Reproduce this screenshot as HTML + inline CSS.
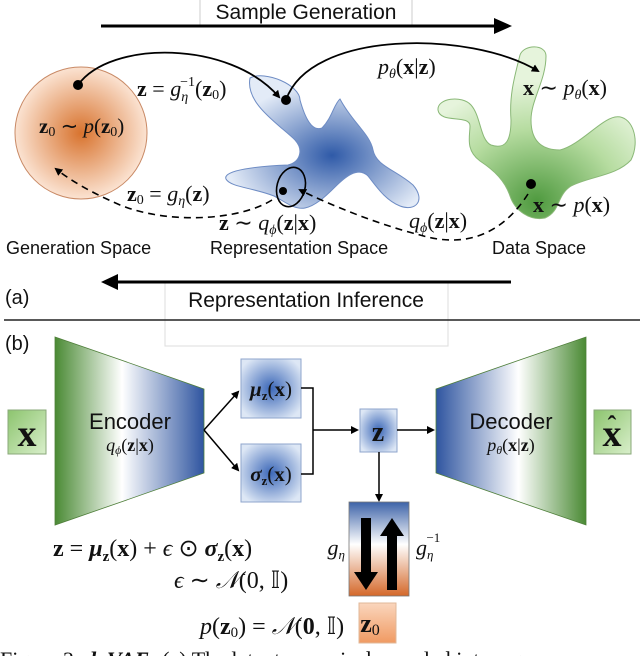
<!DOCTYPE html>
<html><head><meta charset="utf-8"><style>
html,body{margin:0;padding:0;background:#fff;width:640px;height:656px;overflow:hidden}
svg{display:block}
.s{font-family:"Liberation Sans",sans-serif;fill:#111}
.m{font-family:"Liberation Serif",serif;fill:#111}
.b{font-weight:bold}
.i{font-style:italic}
</style></head><body>
<svg width="640" height="656" viewBox="0 0 640 656" xmlns="http://www.w3.org/2000/svg" font-size="22">
<defs>
<radialGradient id="org" cx="50%" cy="50%" r="50%"><stop offset="0" stop-color="#d8732e"/><stop offset="1" stop-color="#fbe3d2"/></radialGradient>
<radialGradient id="blu" cx="55%" cy="60%" r="55%"><stop offset="0" stop-color="#2f5aa8"/><stop offset="1" stop-color="#e3ebf7"/></radialGradient>
<radialGradient id="grn" cx="50%" cy="90%" r="70%"><stop offset="0" stop-color="#4f9a3f"/><stop offset="0.6" stop-color="#b6dca0"/><stop offset="1" stop-color="#e6f4dc"/></radialGradient>
<radialGradient id="bbox" cx="50%" cy="50%" r="60%"><stop offset="0" stop-color="#3c68b8"/><stop offset="1" stop-color="#dde7f5"/></radialGradient>
<linearGradient id="enc" x1="0" x2="1"><stop offset="0" stop-color="#4a8a34"/><stop offset="0.45" stop-color="#fff"/><stop offset="1" stop-color="#2f55a0"/></linearGradient>
<linearGradient id="dec" x1="0" x2="1"><stop offset="0" stop-color="#2f55a0"/><stop offset="0.55" stop-color="#fff"/><stop offset="1" stop-color="#4a8a34"/></linearGradient>
<linearGradient id="gx" x1="0" y1="0" x2="1" y2="1"><stop offset="0" stop-color="#8cc46e"/><stop offset="1" stop-color="#d9efcb"/></linearGradient>
<linearGradient id="flow" x1="0" y1="0" x2="0" y2="1"><stop offset="0" stop-color="#3d63a8"/><stop offset="0.45" stop-color="#fff"/><stop offset="1" stop-color="#d4682a"/></linearGradient>
<linearGradient id="z0g" x1="0" y1="0" x2="0" y2="1"><stop offset="0" stop-color="#fad6bd"/><stop offset="1" stop-color="#f09a62"/></linearGradient>
<marker id="ah" markerWidth="8" markerHeight="8" refX="6" refY="4" orient="auto" markerUnits="userSpaceOnUse"><path d="M0,0 L8,4 L0,8 Z" fill="#000"/></marker>
</defs>

<line x1="200" y1="0" x2="200" y2="25" stroke="#ccc"/>
<line x1="412" y1="0" x2="412" y2="25" stroke="#ccc"/>
<text x="306" y="19" class="s" text-anchor="middle" font-size="21">Sample Generation</text>
<line x1="101" y1="26" x2="496" y2="26" stroke="#000" stroke-width="3"/>
<path d="M494,18 L512,26 L494,34 Z" fill="#000"/>

<ellipse cx="81" cy="133" rx="66" ry="66" fill="url(#org)" stroke="#c98a66" stroke-width="1"/>
<text x="39" y="133" class="m" font-size="21"><tspan class="b">z</tspan><tspan font-size="14" dy="3">0</tspan><tspan dy="-3"> ∼ </tspan><tspan class="i">p</tspan>(<tspan class="b">z</tspan><tspan font-size="14" dy="3">0</tspan><tspan dy="-3">)</tspan></text>

<path d="M250,78 C265,70 300,85 300,100 C305,118 312,132 322,128 C332,118 334,104 340,99 C352,122 370,134 373,150 C376,166 396,170 413,185 C426,200 416,212 400,206 C385,200 376,186 368,176 C358,166 345,177 335,187 C325,197 315,206 305,208 C294,210 284,201 274,196 C254,188 230,187 226,179 C222,170 260,166 288,165 C300,162 304,150 295,140 C280,125 245,104 250,78 Z" fill="url(#blu)" stroke="#6e8cc4" stroke-width="1"/>
<path d="M520,55 C524,44 546,44 546,56 C546,80 531,100 531,120 C531,140 541,150 560,150 C580,145 600,120 615,117 C632,114 641,140 631,160 C616,176 591,176 571,186 C556,196 561,211 545,218 C530,221 515,211 510,196 C505,181 495,171 480,161 C465,150 470,136 470,126 C470,114 440,124 438,110 C437,98 462,95 471,105 C481,116 480,140 491,145 C506,150 511,140 511,120 C509,95 515,75 520,55 Z" fill="url(#grn)" stroke="#8ab877" stroke-width="1"/>

<ellipse cx="291" cy="187" rx="14" ry="20" transform="rotate(15 291 187)" fill="none" stroke="#000" stroke-width="1.6"/>
<circle cx="283" cy="191" r="4" fill="#000"/>

<circle cx="78" cy="85" r="5" fill="#000"/>
<path d="M78,85 C110,40 230,40 279,97" fill="none" stroke="#000" stroke-width="1.8" marker-end="url(#ah)"/>
<circle cx="286" cy="100" r="5" fill="#000"/>
<path d="M286,100 C310,30 470,30 538,71" fill="none" stroke="#000" stroke-width="1.8" marker-end="url(#ah)"/>
<circle cx="531" cy="184" r="5" fill="#000"/>

<path d="M528,194 C505,230 470,250 420,235 C380,225 330,205 300,190" fill="none" stroke="#000" stroke-width="1.6" stroke-dasharray="7,5" marker-end="url(#ah)"/>
<path d="M272,200 C240,220 170,225 120,205 C90,192 70,180 56,169" fill="none" stroke="#000" stroke-width="1.6" stroke-dasharray="7,5" marker-end="url(#ah)"/>

<text x="137" y="96" class="m" font-size="22"><tspan class="b">z</tspan> = <tspan class="i">g</tspan><tspan class="i" font-size="14" dy="5">η</tspan><tspan font-size="14" dy="-15" dx="-8">−1</tspan><tspan dy="10">(</tspan><tspan class="b">z</tspan><tspan font-size="14" dy="3">0</tspan><tspan dy="-3">)</tspan></text>
<text x="378" y="74" class="m" font-size="22"><tspan class="i">p</tspan><tspan class="i" font-size="14" dy="4">θ</tspan><tspan dy="-4">(</tspan><tspan class="b">x</tspan>|<tspan class="b">z</tspan>)</text>
<text x="523" y="95" class="m" font-size="22"><tspan class="b">x</tspan> ∼ <tspan class="i">p</tspan><tspan class="i" font-size="14" dy="4">θ</tspan><tspan dy="-4">(</tspan><tspan class="b">x</tspan>)</text>
<text x="533" y="212" class="m" font-size="22"><tspan class="b">x</tspan> ∼ <tspan class="i">p</tspan>(<tspan class="b">x</tspan>)</text>
<text x="409" y="228" class="m" font-size="22"><tspan class="i">q</tspan><tspan class="i" font-size="14" dy="4">ϕ</tspan><tspan dy="-4">(</tspan><tspan class="b">z</tspan>|<tspan class="b">x</tspan>)</text>
<text x="127" y="201" class="m" font-size="22"><tspan class="b">z</tspan><tspan font-size="14" dy="3">0</tspan><tspan dy="-3"> = </tspan><tspan class="i">g</tspan><tspan class="i" font-size="14" dy="4">η</tspan><tspan dy="-4">(</tspan><tspan class="b">z</tspan>)</text>
<text x="219" y="230" class="m" font-size="22"><tspan class="b">z</tspan> ∼ <tspan class="i">q</tspan><tspan class="i" font-size="14" dy="4">ϕ</tspan><tspan dy="-4">(</tspan><tspan class="b">z</tspan>|<tspan class="b">x</tspan>)</text>

<text x="6" y="254" class="s" font-size="18">Generation Space</text>
<text x="210" y="254" class="s" font-size="18">Representation Space</text>
<text x="492" y="254" class="s" font-size="18">Data Space</text>

<rect x="165" y="282" width="283" height="64" fill="none" stroke="#ddd"/>
<line x1="511" y1="282" x2="115" y2="282" stroke="#000" stroke-width="3"/>
<path d="M118,274 L101,282 L118,290 Z" fill="#000"/>
<text x="5" y="304" class="s" font-size="20">(a)</text>
<text x="306" y="307" class="s" text-anchor="middle" font-size="21">Representation Inference</text>
<line x1="4" y1="320" x2="640" y2="320" stroke="#222" stroke-width="1.5"/>
<text x="5" y="350" class="s" font-size="20">(b)</text>

<polygon points="55,337 204,389 204,473 55,525" fill="url(#enc)" stroke="#4f7f3a" stroke-width="0.8"/>
<text x="130" y="429" class="s" text-anchor="middle" font-size="22">Encoder</text>
<text x="130" y="451" class="m" text-anchor="middle" font-size="18"><tspan class="i">q</tspan><tspan class="i" font-size="12" dy="3">ϕ</tspan><tspan dy="-3">(</tspan><tspan class="b">z</tspan>|<tspan class="b">x</tspan>)</text>
<polygon points="436,389 586,337 586,525 436,473" fill="url(#dec)" stroke="#4f7f3a" stroke-width="0.8"/>
<text x="511" y="429" class="s" text-anchor="middle" font-size="22">Decoder</text>
<text x="511" y="451" class="m" text-anchor="middle" font-size="18"><tspan class="i">p</tspan><tspan class="i" font-size="12" dy="3">θ</tspan><tspan dy="-3">(</tspan><tspan class="b">x</tspan>|<tspan class="b">z</tspan>)</text>

<rect x="8" y="410" width="38" height="44" fill="url(#gx)" stroke="#8aa87a"/>
<text x="27" y="446" class="m b" text-anchor="middle" font-size="38">x</text>
<rect x="594" y="410" width="37" height="44" fill="url(#gx)" stroke="#8aa87a"/>
<text x="612" y="446" class="m b" text-anchor="middle" font-size="38">x</text>
<text x="612" y="434" class="m b" text-anchor="middle" font-size="26">ˆ</text>

<rect x="241" y="359" width="60" height="59" fill="url(#bbox)" stroke="#8fa6cc"/>
<text x="271" y="396" class="m" text-anchor="middle" font-size="21"><tspan class="b i">μ</tspan><tspan class="b" font-size="13" dy="4">z</tspan><tspan dy="-4">(</tspan><tspan class="b">x</tspan>)</text>
<rect x="241" y="444" width="60" height="58" fill="url(#bbox)" stroke="#8fa6cc"/>
<text x="271" y="481" class="m" text-anchor="middle" font-size="21"><tspan class="b i">σ</tspan><tspan class="b" font-size="13" dy="4">z</tspan><tspan dy="-4">(</tspan><tspan class="b">x</tspan>)</text>
<line x1="204" y1="430" x2="238" y2="392" stroke="#000" stroke-width="1.5" marker-end="url(#ah)"/>
<line x1="204" y1="430" x2="238" y2="470" stroke="#000" stroke-width="1.5" marker-end="url(#ah)"/>
<polyline points="301,388 313,388 313,474 301,474" fill="none" stroke="#000" stroke-width="1.5"/>
<line x1="313" y1="430" x2="357" y2="430" stroke="#000" stroke-width="1.5" marker-end="url(#ah)"/>
<rect x="360" y="409" width="37" height="43" fill="url(#bbox)" stroke="#8fa6cc"/>
<text x="378" y="441" class="m b" text-anchor="middle" font-size="28">z</text>
<line x1="397" y1="430" x2="433" y2="430" stroke="#000" stroke-width="1.5" marker-end="url(#ah)"/>
<line x1="379" y1="452" x2="379" y2="500" stroke="#000" stroke-width="1.5" marker-end="url(#ah)"/>
<rect x="349" y="502" width="60" height="94" fill="url(#flow)" stroke="#777" stroke-width="0.8"/>
<path d="M361,518 L371,518 L371,572 L378,572 L366,590 L354,572 L361,572 Z" fill="#000"/>
<path d="M387,590 L397,590 L397,536 L404,536 L392,518 L380,536 L387,536 Z" fill="#000"/>
<text x="345" y="555" class="m i" text-anchor="end" font-size="22">g<tspan font-size="13" dy="4">η</tspan></text>
<text x="416" y="555" class="m i" font-size="22">g<tspan font-size="13" dy="4">η</tspan><tspan font-style="normal" font-size="13" dy="-17" dx="-7">−1</tspan></text>
<rect x="359" y="603" width="37" height="40" fill="url(#z0g)" stroke="#e0b89a"/>
<text x="370" y="632" class="m b" text-anchor="middle" font-size="26">z<tspan font-weight="normal" font-size="16" dy="3">0</tspan></text>

<text x="53" y="556" class="m" font-size="24"><tspan class="b">z</tspan> = <tspan class="b i">μ</tspan><tspan class="b" font-size="15" dy="5">z</tspan><tspan dy="-5">(</tspan><tspan class="b">x</tspan>) + <tspan class="i">ϵ</tspan> ⊙ <tspan class="b i">σ</tspan><tspan class="b" font-size="15" dy="5">z</tspan><tspan dy="-5">(</tspan><tspan class="b">x</tspan>)</text>
<text x="174" y="588" class="m" font-size="24"><tspan class="i">ϵ</tspan> ∼ <tspan class="i">𝒩</tspan>(0, 𝕀)</text>
<text x="200" y="634" class="m" font-size="24"><tspan class="i">p</tspan>(<tspan class="b">z</tspan><tspan font-size="15" dy="3">0</tspan><tspan dy="-3">) = </tspan><tspan class="i">𝒩</tspan>(<tspan class="b">0</tspan>, 𝕀)</text>

<text x="0" y="667" class="m" font-size="22">Figure 2. <tspan class="b i">dpVAE:</tspan> (a) The latent space is decoupled into a gen</text>
</svg>
</body></html>
